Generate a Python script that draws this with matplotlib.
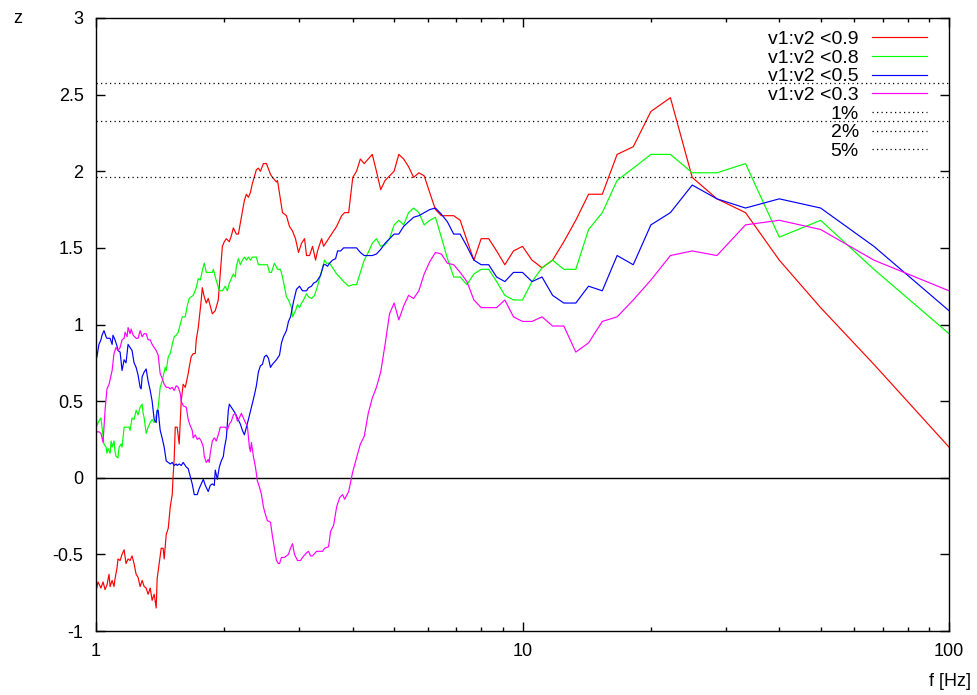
import matplotlib
matplotlib.use("Agg")
import matplotlib.pyplot as plt
from matplotlib.ticker import LogLocator, NullFormatter, FormatStrFormatter
import numpy as np

plt.rcParams['font.family'] = ['Liberation Sans', 'DejaVu Sans']
plt.rcParams['axes.unicode_minus'] = False

# upper band: f = 200/n Hz for n = 50 .. 2 (same for every series)
f_hi = [4.0, 4.082, 4.167, 4.255, 4.348, 4.444, 4.545, 4.651, 4.762, 4.878,
        5.0, 5.128, 5.263, 5.405, 5.556, 5.714, 5.882, 6.061, 6.25, 6.452,
        6.667, 6.897, 7.143, 7.407, 7.692, 8.0, 8.333, 8.696, 9.091, 9.524,
        10.0, 10.526, 11.111, 11.765, 12.5, 13.333, 14.286, 15.385, 16.667, 18.182,
        20.0, 22.222, 25.0, 28.571, 33.333, 40.0, 50.0, 66.667, 100.0]

# v1:v2 < 0.9
red_f = [1.000, 1.011, 1.027, 1.039, 1.050, 1.061, 1.073, 1.079, 1.091, 1.102,
         1.108, 1.120, 1.126, 1.139, 1.151, 1.164, 1.176, 1.189, 1.202, 1.215,
         1.228, 1.242, 1.255, 1.269, 1.283, 1.297, 1.311, 1.325, 1.340, 1.347,
         1.354, 1.369, 1.384, 1.391, 1.406, 1.422, 1.437, 1.445, 1.461, 1.477,
         1.493, 1.509, 1.517, 1.525, 1.534, 1.550, 1.567, 1.584, 1.601, 1.619,
         1.628, 1.645, 1.654, 1.672, 1.690, 1.709, 1.718, 1.737, 1.746, 1.765,
         1.775, 1.794, 1.814, 1.833, 1.853, 1.874, 1.904, 1.935, 1.956, 1.978,
         1.999, 2.021, 2.054, 2.077, 2.099, 2.133, 2.157, 2.192, 2.228, 2.252,
         2.277, 2.301, 2.326, 2.377, 2.403, 2.429, 2.469, 2.510, 2.565, 2.592,
         2.649, 2.664, 2.737, 2.796, 2.842, 2.889, 2.936, 2.984, 3.033, 3.083,
         3.116, 3.167, 3.219, 3.272, 3.307, 3.380, 3.417, 3.472, 3.548, 3.666,
         3.766, 3.828, 3.912]
red_z = [-0.74, -0.68, -0.72, -0.68, -0.73, -0.70, -0.63, -0.71, -0.67, -0.71,
         -0.66, -0.59, -0.53, -0.54, -0.50, -0.47, -0.56, -0.53, -0.54, -0.51,
         -0.56, -0.63, -0.65, -0.71, -0.67, -0.71, -0.72, -0.76, -0.72, -0.76,
         -0.80, -0.76, -0.85, -0.66, -0.56, -0.46, -0.46, -0.53, -0.37, -0.33,
         -0.19, -0.11, 0.02, 0.12, 0.33, 0.33, 0.22, 0.50, 0.61, 0.59,
         0.62, 0.68, 0.72, 0.79, 0.81, 0.81, 0.90, 0.98, 1.04, 1.16,
         1.24, 1.18, 1.14, 1.17, 1.12, 1.07, 1.09, 1.16, 1.33, 1.51,
         1.54, 1.56, 1.54, 1.58, 1.63, 1.59, 1.59, 1.70, 1.81, 1.85,
         1.83, 1.86, 1.92, 2.01, 2.02, 2.00, 2.05, 2.05, 1.98, 1.96,
         1.93, 1.94, 1.73, 1.71, 1.64, 1.61, 1.56, 1.47, 1.53, 1.56,
         1.45, 1.45, 1.51, 1.42, 1.48, 1.56, 1.51, 1.54, 1.58, 1.64,
         1.71, 1.73, 1.73]
red_hi = [1.96, 2.00, 2.08, 2.05, 2.08, 2.11, 2.00, 1.88, 1.94, 1.97,
          2.00, 2.11, 2.08, 2.03, 1.96, 1.99, 1.97, 1.86, 1.75, 1.71,
          1.71, 1.71, 1.68, 1.55, 1.42, 1.56, 1.56, 1.48, 1.39, 1.48,
          1.51, 1.42, 1.37, 1.42, 1.54, 1.68, 1.85, 1.85, 2.11, 2.16,
          2.39, 2.48, 1.96, 1.82, 1.73, 1.42, 1.11, 0.74, 0.20]

# v1:v2 < 0.8
green_f = [1.000, 1.005, 1.016, 1.027, 1.033, 1.044, 1.056, 1.061, 1.067, 1.079,
           1.085, 1.091, 1.102, 1.108, 1.114, 1.126, 1.133, 1.145, 1.151, 1.164,
           1.176, 1.196, 1.202, 1.215, 1.228, 1.242, 1.255, 1.269, 1.283, 1.290,
           1.297, 1.311, 1.325, 1.340, 1.354, 1.369, 1.384, 1.391, 1.399, 1.414,
           1.429, 1.445, 1.453, 1.461, 1.477, 1.493, 1.509, 1.525, 1.542, 1.559,
           1.576, 1.593, 1.619, 1.636, 1.654, 1.690, 1.718, 1.737, 1.756, 1.775,
           1.794, 1.814, 1.843, 1.874, 1.884, 1.904, 1.946, 1.978, 2.010, 2.032,
           2.054, 2.077, 2.099, 2.122, 2.133, 2.157, 2.180, 2.204, 2.228, 2.252,
           2.277, 2.301, 2.326, 2.377, 2.403, 2.456, 2.523, 2.551, 2.578, 2.621,
           2.664, 2.707, 2.737, 2.796, 2.827, 2.873, 2.889, 2.936, 2.968, 3.000,
           3.033, 3.066, 3.116, 3.150, 3.202, 3.254, 3.307, 3.343, 3.398, 3.435,
           3.472, 3.529, 3.607, 3.666, 3.726, 3.807, 3.912]
green_z = [0.46, 0.34, 0.37, 0.39, 0.33, 0.22, 0.20, 0.16, 0.19, 0.16,
           0.24, 0.20, 0.24, 0.17, 0.14, 0.13, 0.20, 0.22, 0.20, 0.33,
           0.33, 0.33, 0.31, 0.39, 0.38, 0.44, 0.41, 0.46, 0.48, 0.42,
           0.39, 0.29, 0.33, 0.36, 0.38, 0.36, 0.41, 0.43, 0.46, 0.59,
           0.63, 0.69, 0.72, 0.70, 0.79, 0.81, 0.87, 0.92, 0.93, 0.95,
           1.00, 1.05, 1.05, 1.12, 1.17, 1.19, 1.24, 1.30, 1.29, 1.35,
           1.40, 1.34, 1.34, 1.34, 1.36, 1.31, 1.22, 1.22, 1.25, 1.22,
           1.27, 1.30, 1.33, 1.31, 1.38, 1.43, 1.39, 1.42, 1.44, 1.42,
           1.44, 1.42, 1.44, 1.44, 1.39, 1.39, 1.39, 1.34, 1.34, 1.40,
           1.36, 1.36, 1.31, 1.18, 1.16, 1.11, 1.05, 1.09, 1.13, 1.11,
           1.14, 1.16, 1.20, 1.18, 1.17, 1.19, 1.25, 1.30, 1.37, 1.42,
           1.40, 1.40, 1.36, 1.33, 1.31, 1.28, 1.25]
green_hi = [1.26, 1.26, 1.34, 1.42, 1.47, 1.53, 1.56, 1.51, 1.52, 1.56,
            1.65, 1.68, 1.65, 1.73, 1.76, 1.73, 1.65, 1.68, 1.70, 1.57,
            1.43, 1.31, 1.31, 1.26, 1.33, 1.36, 1.36, 1.28, 1.19, 1.16,
            1.16, 1.28, 1.37, 1.42, 1.36, 1.36, 1.62, 1.73, 1.94, 2.02,
            2.11, 2.11, 1.99, 1.99, 2.05, 1.57, 1.68, 1.36, 0.94]

# v1:v2 < 0.5
blue_f = [1.000, 1.005, 1.016, 1.027, 1.033, 1.044, 1.056, 1.061, 1.079, 1.091,
          1.096, 1.108, 1.120, 1.126, 1.139, 1.151, 1.164, 1.176, 1.189, 1.202,
          1.215, 1.228, 1.242, 1.255, 1.269, 1.276, 1.283, 1.297, 1.311, 1.325,
          1.340, 1.354, 1.369, 1.384, 1.391, 1.399, 1.414, 1.429, 1.445, 1.461,
          1.477, 1.493, 1.509, 1.525, 1.542, 1.550, 1.567, 1.584, 1.601, 1.628,
          1.645, 1.663, 1.681, 1.700, 1.727, 1.746, 1.765, 1.785, 1.804, 1.833,
          1.853, 1.874, 1.894, 1.904, 1.925, 1.946, 1.967, 1.989, 1.999, 2.021,
          2.032, 2.043, 2.054, 2.077, 2.099, 2.122, 2.145, 2.180, 2.204, 2.228,
          2.252, 2.277, 2.314, 2.352, 2.377, 2.403, 2.429, 2.456, 2.483, 2.510,
          2.537, 2.565, 2.592, 2.649, 2.693, 2.722, 2.751, 2.796, 2.827, 2.858,
          2.873, 2.905, 2.952, 3.000, 3.049, 3.116, 3.150, 3.202, 3.237, 3.289,
          3.325, 3.361, 3.417, 3.454, 3.491, 3.529, 3.587, 3.646, 3.685, 3.746,
          3.807, 3.912]
blue_z = [0.77, 0.79, 0.87, 0.90, 0.93, 0.96, 0.92, 0.91, 0.91, 0.87,
          0.93, 0.90, 0.86, 0.83, 0.82, 0.70, 0.77, 0.75, 0.87, 0.85,
          0.83, 0.75, 0.72, 0.67, 0.59, 0.58, 0.66, 0.69, 0.71, 0.63,
          0.57, 0.50, 0.38, 0.36, 0.44, 0.44, 0.31, 0.26, 0.20, 0.11,
          0.10, 0.09, 0.10, 0.08, 0.09, 0.08, 0.09, 0.08, 0.10, 0.07,
          0.06, 0.01, -0.04, -0.11, -0.11, -0.07, -0.04, -0.01, -0.05, -0.09,
          -0.05, -0.04, -0.05, 0.05, -0.01, 0.07, 0.11, 0.14, 0.19, 0.26,
          0.35, 0.44, 0.48, 0.46, 0.44, 0.42, 0.39, 0.35, 0.31, 0.28,
          0.33, 0.38, 0.46, 0.54, 0.60, 0.69, 0.73, 0.74, 0.79, 0.80,
          0.78, 0.72, 0.74, 0.77, 0.80, 0.88, 0.92, 0.96, 1.02, 1.05,
          1.08, 1.15, 1.23, 1.25, 1.22, 1.22, 1.24, 1.25, 1.27, 1.28,
          1.30, 1.32, 1.39, 1.39, 1.38, 1.40, 1.42, 1.43, 1.48, 1.48,
          1.50, 1.50]
blue_hi = [1.50, 1.50, 1.47, 1.45, 1.45, 1.45, 1.46, 1.49, 1.53, 1.56,
           1.59, 1.59, 1.64, 1.67, 1.70, 1.71, 1.73, 1.75, 1.76, 1.72,
           1.67, 1.59, 1.59, 1.51, 1.42, 1.39, 1.39, 1.31, 1.28, 1.34,
           1.34, 1.28, 1.31, 1.19, 1.14, 1.14, 1.25, 1.22, 1.45, 1.39,
           1.65, 1.73, 1.91, 1.82, 1.76, 1.82, 1.76, 1.51, 1.09]

# v1:v2 < 0.3
mag_f = [1.000, 1.005, 1.016, 1.027, 1.039, 1.050, 1.061, 1.073, 1.085, 1.091,
         1.102, 1.114, 1.126, 1.139, 1.151, 1.164, 1.170, 1.183, 1.189, 1.202,
         1.209, 1.222, 1.242, 1.255, 1.269, 1.283, 1.297, 1.311, 1.325, 1.340,
         1.354, 1.369, 1.384, 1.399, 1.414, 1.429, 1.445, 1.461, 1.477, 1.493,
         1.509, 1.525, 1.542, 1.559, 1.576, 1.584, 1.601, 1.628, 1.645, 1.663,
         1.681, 1.690, 1.709, 1.727, 1.746, 1.765, 1.785, 1.794, 1.814, 1.833,
         1.843, 1.853, 1.874, 1.894, 1.915, 1.935, 1.956, 1.978, 2.010, 2.032,
         2.054, 2.077, 2.099, 2.122, 2.145, 2.168, 2.192, 2.216, 2.240, 2.264,
         2.289, 2.301, 2.314, 2.339, 2.365, 2.390, 2.416, 2.443, 2.469, 2.496,
         2.523, 2.565, 2.592, 2.621, 2.649, 2.678, 2.693, 2.722, 2.766, 2.827,
         2.858, 2.889, 2.920, 2.968, 3.017, 3.049, 3.116, 3.150, 3.184, 3.219,
         3.289, 3.343, 3.398, 3.435, 3.510, 3.548, 3.607, 3.666, 3.726, 3.787,
         3.828, 3.912]
mag_z = [0.28, 0.30, 0.30, 0.29, 0.23, 0.44, 0.58, 0.61, 0.67, 0.70,
         0.81, 0.85, 0.83, 0.85, 0.90, 0.91, 0.95, 0.92, 0.98, 0.94,
         0.97, 0.93, 0.91, 0.91, 0.96, 0.92, 0.94, 0.94, 0.90, 0.90,
         0.87, 0.85, 0.83, 0.80, 0.68, 0.65, 0.61, 0.59, 0.59, 0.58,
         0.59, 0.57, 0.60, 0.59, 0.55, 0.50, 0.47, 0.46, 0.38, 0.34,
         0.31, 0.26, 0.28, 0.25, 0.26, 0.24, 0.20, 0.14, 0.10, 0.12,
         0.10, 0.16, 0.24, 0.26, 0.24, 0.28, 0.33, 0.33, 0.33, 0.31,
         0.35, 0.37, 0.41, 0.42, 0.37, 0.39, 0.42, 0.39, 0.36, 0.34,
         0.20, 0.17, 0.23, 0.14, 0.07, -0.02, -0.06, -0.11, -0.19, -0.24,
         -0.28, -0.29, -0.38, -0.46, -0.54, -0.56, -0.56, -0.52, -0.52, -0.50,
         -0.46, -0.43, -0.50, -0.54, -0.54, -0.52, -0.49, -0.48, -0.51, -0.51,
         -0.48, -0.48, -0.48, -0.46, -0.45, -0.35, -0.31, -0.19, -0.13, -0.11,
         -0.14, -0.09]
mag_hi = [0.04, 0.13, 0.22, 0.27, 0.42, 0.52, 0.59, 0.69, 0.87, 1.07,
          1.14, 1.03, 1.12, 1.19, 1.17, 1.22, 1.33, 1.41, 1.47, 1.46,
          1.40, 1.39, 1.34, 1.28, 1.16, 1.11, 1.11, 1.11, 1.16, 1.05,
          1.02, 1.02, 1.05, 0.99, 0.99, 0.82, 0.88, 1.02, 1.05, 1.16,
          1.29, 1.45, 1.48, 1.45, 1.65, 1.68, 1.62, 1.42, 1.22]

labels = ['v1:v2 <0.9', 'v1:v2 <0.8', 'v1:v2 <0.5', 'v1:v2 <0.3']
colors = ['#ff0000', '#00ff00', '#0000ff', '#ff00ff']

# two-sided significance levels
sig_z = [2.576, 2.326, 1.960]
sig_labels = ['1%', '2%', '5%']

fig = plt.figure(figsize=(9.77, 6.95), dpi=100)
ax = fig.add_axes([96 / 977, 1 - 631 / 695, 853 / 977, 613 / 695])

series = [(red_f, red_z, red_hi), (green_f, green_z, green_hi),
          (blue_f, blue_z, blue_hi), (mag_f, mag_z, mag_hi)]
for (lo_f, lo_z, hi_z), lab, col in zip(series, labels, colors):
    f = np.concatenate([lo_f, f_hi])
    z = np.concatenate([lo_z, hi_z])
    ax.plot(f, z, color=col, lw=0.85, label=lab)

for zz, lab in zip(sig_z, sig_labels):
    ax.axhline(zz, color='black', lw=0.9, ls=(0, (1, 2.6)), label=lab)

ax.axhline(0, color='black', lw=1.0, zorder=1)

ax.set_xscale('log')
ax.set_xlim(1, 100)
ax.set_ylim(-1, 3)
ax.set_xticks([1, 10, 100])
ax.set_xticklabels(['1', '10', '100'])
ax.xaxis.set_minor_locator(LogLocator(base=10, subs=np.arange(2, 10)))
ax.xaxis.set_minor_formatter(NullFormatter())
ax.set_yticks(np.arange(-1, 3.01, 0.5))
ax.yaxis.set_major_formatter(FormatStrFormatter('%g'))

ax.tick_params(which='both', direction='in', top=True, right=True, width=1.0)
ax.tick_params(which='major', length=6.5, labelsize=13, pad=9)
ax.tick_params(which='minor', length=3)
for sp in ax.spines.values():
    sp.set_linewidth(1.0)

ax.legend(loc='upper right', bbox_to_anchor=(0.9742, 0.980), frameon=False,
          markerfirst=False, fontsize=14, handlelength=2.83, handletextpad=0.67,
          labelspacing=0.057, borderpad=0, borderaxespad=0)

fig.text(13 / 977, 1 - 23 / 695, 'z', fontsize=13, va='baseline', ha='left')
fig.text(971 / 977, 1 - 686 / 695, 'f [Hz]', fontsize=13, va='baseline', ha='right')

fig.savefig('out.png', dpi=100)
